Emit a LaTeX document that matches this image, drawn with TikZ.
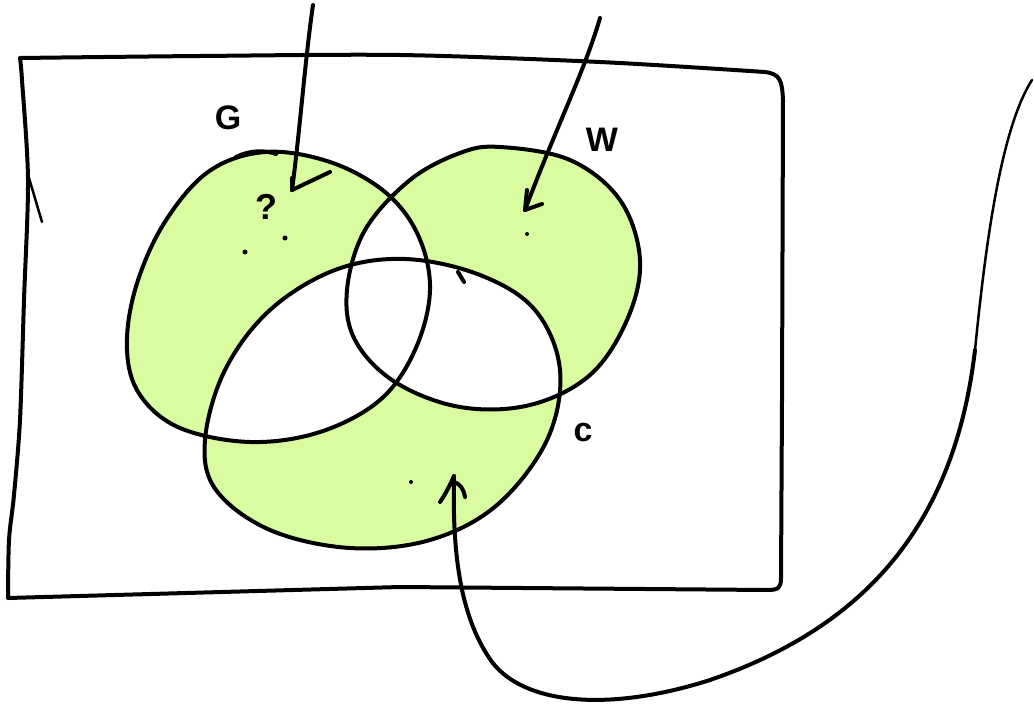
\documentclass[tikz,border=0pt]{standalone}
\usepackage{fontspec}
\setmainfont{Liberation Sans}
\definecolor{shade}{RGB}{218,252,160}
\begin{document}
\begin{tikzpicture}[x=1pt,y=-1pt,
  ink/.style={line width=4pt,line cap=round,line join=round},
  thinink/.style={line width=2.5pt,line cap=round,line join=round},
  lbl/.style={font=\fontsize{34}{34}\selectfont\bfseries,inner sep=0pt},
  dot/.style={circle,fill=black,inner sep=0pt,minimum size=5pt}]
\useasboundingbox (0,0) rectangle (1034,704);
\def\Gpath{plot[smooth cycle,tension=0.6] coordinates {(265,152) (330,162) (385,192) (418,235) (430,290) (415,350) (380,400) (320,432) (250,442) (180,428) (140,395) (127,350) (135,290) (163,225) (208,172)}}
\def\Wpath{plot[smooth cycle,tension=0.6] coordinates {(500,147) (570,160) (620,200) (640,260) (627,320) (590,375) (530,405) (460,407) (395,382) (355,340) (347,290) (365,230) (410,180) (460,153)}}
\def\Cpath{plot[smooth cycle,tension=0.6] coordinates {(405,259) (480,275) (535,310) (560,370) (547,440) (497,505) (430,540) (350,548) (270,530) (216,490) (205,440) (225,370) (270,310) (335,270)}}
% shading of the exclusive regions
\path[fill=shade,even odd rule] \Gpath \Wpath \Cpath;
\begin{scope}
  \clip \Gpath; \clip \Wpath;
  \fill[white] \Cpath;
\end{scope}
% frame
\draw[ink] plot[smooth,tension=0.5] coordinates {(20,58) (200,56) (400,55) (600,62) (765,72)}
  .. controls (780,74) and (782,80) .. (783,100)
  -- (782,400) -- (781,578) .. controls (781,588) and (778,590) .. (768,590)
  -- (400,587) -- (8,598)
  plot[smooth,tension=0.5] coordinates {(8,598) (9,540) (14,495) (20,420) (24,300) (28,180) (22,80) (20,58)};
\draw[thinink] (29,178) -- (42,222);
% sets
\draw[ink] \Gpath;
\draw[ink] \Wpath;
\draw[ink] \Cpath;
\draw[ink] (236,157) .. controls (250,150) and (265,150) .. (276,154);
\draw[ink] (458,272) -- (464,282);
% labels
\node[lbl] (g) at (228,118) {G};
\node[lbl] (w) at (602,140) {W};
\node[lbl] (c) at (583,433) {c};
\node[font=\fontsize{36}{36}\selectfont\bfseries,inner sep=0pt] (q) at (266,207) {?};
\node[dot] (d1) at (245,252) {};
\node[dot] (d2) at (285,238) {};
\node[dot,minimum size=4pt] (d3) at (527,234) {};
\node[dot,minimum size=4pt] (d4) at (411,482) {};
% arrows
\coordinate (a1s) at (313,5);
\coordinate (a1t) at (292,190);
\draw[ink] (a1s) .. controls (305,60) and (300,130) .. (a1t);
\draw[ink] (a1t) -- (330,172);
\draw[ink] (a1t) -- (292,178);
\coordinate (a2s) at (600,18);
\coordinate (a2t) at (525,210);
\draw[ink] (a2s) .. controls (585,70) and (555,130) .. (a2t);
\draw[ink] (a2t) -- (527,190);
\draw[ink] (a2t) -- (542,204);
\coordinate (a3s) at (1032,80);
\coordinate (a3t) at (454,476);
\draw[thinink] (a3s) .. controls (1000,130) and (985,250) .. (975,350);
\draw[ink] (975,350) .. controls (955,520) and (870,625) .. (710,680)
  .. controls (610,712) and (525,705) .. (492,662)
  .. controls (462,620) and (452,560) .. (a3t);
\draw[ink] (a3t) .. controls (450,485) and (445,495) .. (440,502);
\draw[ink] (452,482) .. controls (460,482) and (464,490) .. (465,497);
\end{tikzpicture}
\end{document}
